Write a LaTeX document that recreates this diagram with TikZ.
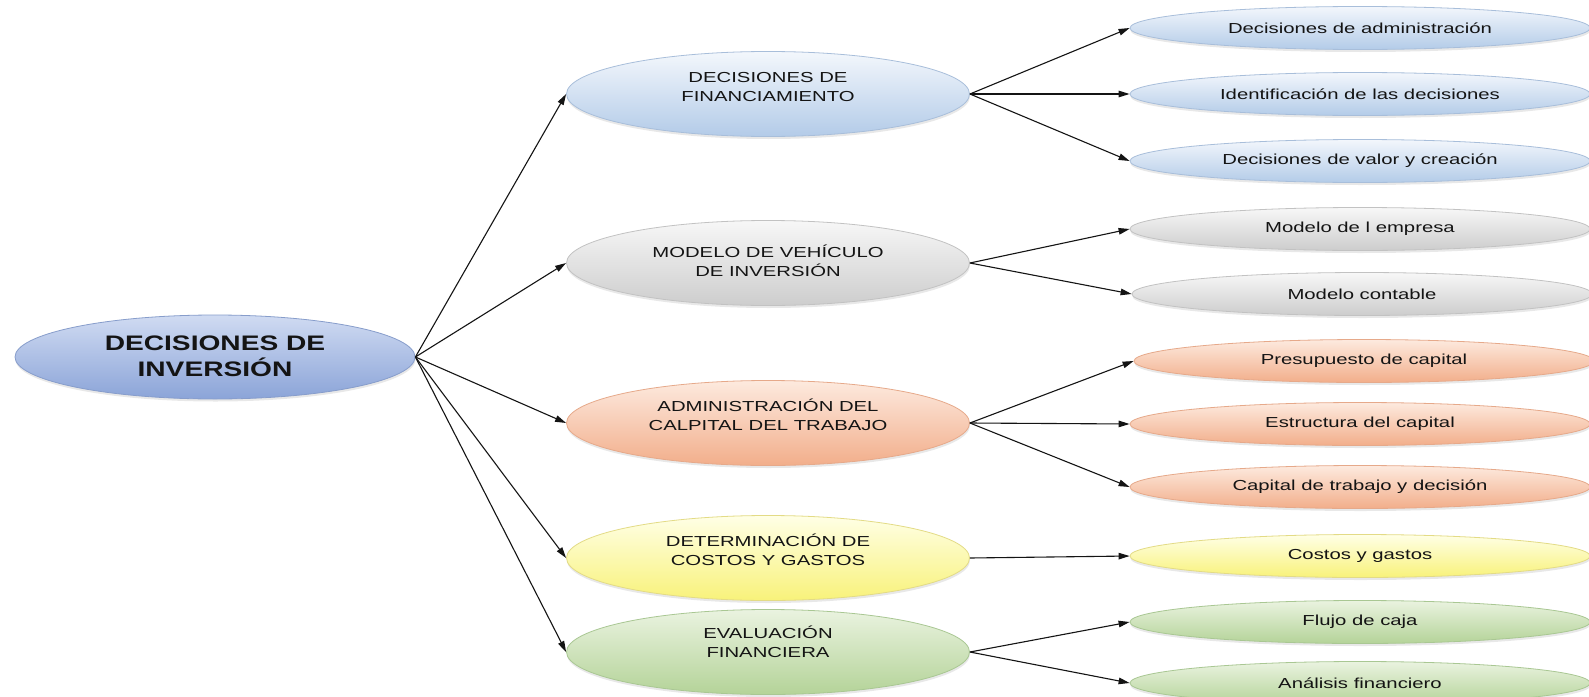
\documentclass[tikz,border=0pt]{standalone}
\usepackage{fontspec}
\setmainfont{Liberation Sans}
\newfontfamily\widefont[FakeStretch=1.4]{Liberation Sans}
\newfontfamily\widebold[FakeStretch=1.34]{Liberation Sans Bold}
\usetikzlibrary{shapes.geometric,arrows.meta,shadows}

% fill shades (top / bottom) and outlines per branch
\definecolor{roottop}{HTML}{D0DBF2}
\definecolor{rootbot}{HTML}{8BA4D8}
\definecolor{rootedge}{HTML}{879DCB}
\definecolor{bluetop}{HTML}{F3F7FC}
\definecolor{bluebot}{HTML}{B3CBE8}
\definecolor{blueedge}{HTML}{A8BEDA}
\definecolor{graytop}{HTML}{F7F7F7}
\definecolor{graybot}{HTML}{CDCDCD}
\definecolor{grayedge}{HTML}{C2C2C2}
\definecolor{orangetop}{HTML}{FDEADF}
\definecolor{orangebot}{HTML}{F2AE8A}
\definecolor{orangeedge}{HTML}{E6A98A}
\definecolor{yellowtop}{HTML}{FFFFE6}
\definecolor{yellowbot}{HTML}{F8F27A}
\definecolor{yellowedge}{HTML}{E3DB86}
\definecolor{greentop}{HTML}{EAF3E0}
\definecolor{greenbot}{HTML}{B4D398}
\definecolor{greenedge}{HTML}{A9C793}
\definecolor{inktext}{HTML}{141414}
\definecolor{inkline}{HTML}{141414}

\tikzset{
  bubble/.style={ellipse, inner sep=0pt, line width=0.8pt,
    draw=#1edge, top color=#1top, bottom color=#1bot,
    drop shadow={opacity=0.18, shadow xshift=0.5pt, shadow yshift=-2.5pt}},
  rootbox/.style={bubble=root, minimum width=400pt, minimum height=84pt},
  midbox/.style={bubble=#1, minimum width=403pt, minimum height=85pt},
  leafbox/.style={bubble=#1, minimum width=460pt, minimum height=43pt,
    text=inktext, font=\widefont\fontsize{14.5}{18}\selectfont},
  roottext/.style={align=center, text=inktext, inner sep=0pt,
    font=\widebold\fontsize{21}{26}\selectfont},
  midtext/.style={align=center, text=inktext, inner sep=0pt,
    font=\widefont\fontsize{14.5}{19}\selectfont},
  link/.style={draw=inkline, line width=1.1pt, -{Triangle[length=11pt,width=6.5pt]}}
}

\begin{document}
\begin{tikzpicture}[x=1pt,y=-1pt]
  \useasboundingbox[fill=white] (0,0) rectangle (1589,696);

  % root
  \node[rootbox] (root) at (215,357) {};
  \node[roottext] (roott) at (215,356) {DECISIONES DE\\INVERSIÓN};

  % second level
  \node[midbox=blue]   (fin)  at (768,94)  {};
  \node[midbox=gray]   (mod)  at (768,263) {};
  \node[midbox=orange] (adm)  at (768,423) {};
  \node[midbox=yellow] (det)  at (768,558) {};
  \node[midbox=green]  (eva)  at (768,652) {};
  \node[midtext] (fint) at (768,87)  {DECISIONES DE\\FINANCIAMIENTO};
  \node[midtext] (modt) at (768,261) {MODELO DE VEHÍCULO\\DE INVERSIÓN};
  \node[midtext] (admt) at (768,415) {ADMINISTRACIÓN DEL\\CALPITAL DEL TRABAJO};
  \node[midtext] (dett) at (768,550) {DETERMINACIÓN DE\\COSTOS Y GASTOS};
  \node[midtext] (evat) at (768,642) {EVALUACIÓN\\FINANCIERA};

  % leaves
  \node[leafbox=blue]   (l1)  at (1360,28)  {Decisiones de administración};
  \node[leafbox=blue]   (l2)  at (1360,94)  {Identificación de las decisiones};
  \node[leafbox=blue]   (l3)  at (1360,161) {Decisiones de valor y creación};
  \node[leafbox=gray]   (l4)  at (1360,229) {Modelo de l empresa};
  \node[leafbox=gray]   (l5)  at (1362,294) {Modelo contable};
  \node[leafbox=orange] (l6)  at (1364,361) {Presupuesto de capital};
  \node[leafbox=orange] (l7)  at (1360,424) {Estructura del capital};
  \node[leafbox=orange] (l8)  at (1360,487) {Capital de trabajo y decisión};
  \node[leafbox=yellow] (l9)  at (1360,556) {Costos y gastos};
  \node[leafbox=green]  (l10) at (1360,622) {Flujo de caja};
  \node[leafbox=green]  (l11) at (1360,683) {Análisis financiero};

  % connectors
  \foreach \t in {fin,mod,adm,det,eva}
    \draw[link] (root.east) -- (\t.west);
  \foreach \t in {l1,l2,l3} \draw[link] (fin.east) -- (\t.west);
  \foreach \t in {l4,l5}    \draw[link] (mod.east) -- (\t.west);
  \foreach \t in {l6,l7,l8} \draw[link] (adm.east) -- (\t.west);
  \draw[link] (det.east) -- (l9.west);
  \foreach \t in {l10,l11}  \draw[link] (eva.east) -- (\t.west);
\end{tikzpicture}
\end{document}
